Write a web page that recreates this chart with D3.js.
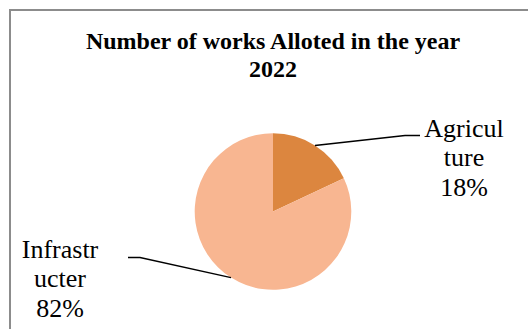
<!DOCTYPE html>
<html>
<head>
<meta charset="utf-8">
<script src="https://cdn.jsdelivr.net/npm/d3@7"></script>
</head>
<body style="margin:0">
<svg id="chart" width="528" height="329" style="display:block"></svg>
<script>
const categories = ["Agriculture", "Infrastructure"];
const values = [18, 82];
const labelLines = [["Agricul", "ture", "18%"], ["Infrastr", "ucter", "82%"]];
const colors = ["#DC863F", "#F8B691"];
const titleLines = ["Number of works Alloted in the year", "2022"];

const serif = '"Liberation Serif"';
const svg = d3.select("#chart");

// chart frame (runs off the right / bottom of the picture)
svg.append("rect")
    .attr("x", 10)
    .attr("y", 10)
    .attr("width", 700)
    .attr("height", 500)
    .attr("fill", "#fff")
    .attr("stroke", "#8c8c8c")
    .attr("stroke-width", 2);

svg.append("g")
    .selectAll("text")
    .data(titleLines)
    .join("text")
    .attr("x", 273)
    .attr("y", (d, i) => 49 + i * 28)
    .attr("text-anchor", "middle")
    .style("font-family", serif)
    .style("font-weight", "bold")
    .style("font-size", "24px")
    .attr("fill", "#000")
    .text(d => d);

const cx = 273, cy = 211.5, r = 78.3;

const pie = d3.pie().sort(null).value(d => d.value);
const arcs = pie(categories.map((c, i) => ({name: c, value: values[i], lines: labelLines[i]})));
const arc = d3.arc().innerRadius(0).outerRadius(r);

const g = svg.append("g").attr("transform", `translate(${cx}, ${cy})`);

g.selectAll("path")
    .data(arcs)
    .join("path")
    .attr("d", arc)
    .attr("fill", (d, i) => colors[i]);

// label anchors (relative to centre): elbow, line end, text centre x, first baseline
const labelPos = [
    {ex: 132, ey: -76, tx: 147, cx: 191, by: -75},
    {ex: -133, ey: 46, tx: -145, cx: -213, by: 46}
];

const midPoint = d => {
    const a = (d.startAngle + d.endAngle) / 2;
    return [Math.sin(a) * r, -Math.cos(a) * r];
};

g.append("g")
    .attr("fill", "none")
    .attr("stroke", "#000")
    .attr("stroke-width", 1.5)
    .selectAll("path")
    .data(arcs)
    .join("path")
    .attr("d", (d, i) => d3.line()([midPoint(d), [labelPos[i].ex, labelPos[i].ey], [labelPos[i].tx, labelPos[i].ey]]));

const labels = g.append("g")
    .selectAll("text")
    .data(arcs)
    .join("text")
    .attr("text-anchor", "middle")
    .style("font-family", serif)
    .style("font-size", "26px")
    .attr("fill", "#000");

labels.each(function(d, i) {
    d3.select(this).selectAll("tspan")
        .data(d.data.lines)
        .join("tspan")
        .attr("x", labelPos[i].cx)
        .attr("y", (t, j) => labelPos[i].by + j * 29.5)
        .text(t => t);
});
</script>
</body>
</html>
